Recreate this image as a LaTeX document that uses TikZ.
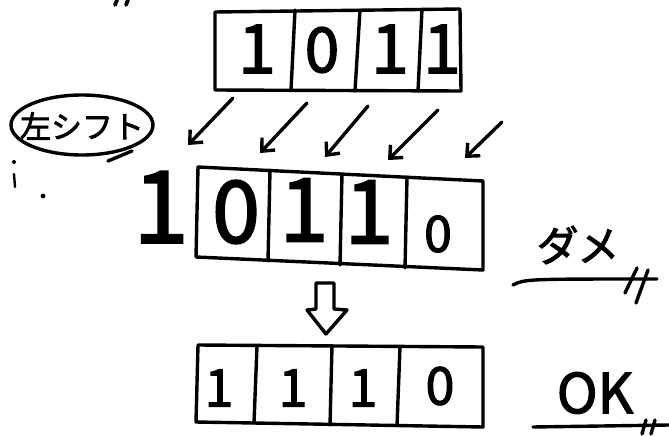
\documentclass[tikz,border=0pt]{standalone}
\usepackage{fontspec}
\newfontfamily\cjk{Noto Sans CJK JP}[FakeBold=2.2]
\usetikzlibrary{arrows.meta}
\begin{document}
\begin{tikzpicture}[x=1pt,y=-1pt,
  pen/.style={line width=3.4pt, line cap=round, line join=round},
  cellrow/.style={pen},
  digit/.style={font=\cjk\fontsize{#1}{#1}\selectfont, inner sep=0pt},
  shiftarrow/.style={pen, -{Straight Barb[length=10pt,width=18pt,line width=3.4pt]}},
  hollow/.style={pen, fill=white},
  jp/.style={font=\cjk\fontsize{#1}{#1}\selectfont, inner sep=0pt},
  underline/.style={pen},
]
\useasboundingbox (0,0) rectangle (669,436);

% ---------- top row 1011 ----------
\draw[cellrow] (215,12) -- (460,9) -- (461,91) -- (215,90) -- cycle;
\draw[cellrow] (295,10) -- (291,90);
\draw[cellrow] (360,10) -- (355,91);
\draw[cellrow] (422,9) -- (418,91);
\node[digit=68] (t1) at (257,49) {1};
\node[digit=62] (t2) at (322,50) {0};
\node[digit=68] (t3) at (390,49) {1};
\node[digit=68] (t4) at (442,49) {1};

% ---------- shift arrows ----------
\coordinate (a1s) at (233,98);  \coordinate (a1e) at (188,145);
\coordinate (a2s) at (307,103); \coordinate (a2e) at (260,153);
\coordinate (a3s) at (368,106); \coordinate (a3e) at (325,157);
\coordinate (a4s) at (438,110); \coordinate (a4e) at (388,160);
\coordinate (a5s) at (502,122); \coordinate (a5e) at (465,158);
\foreach \i in {1,...,5} \draw[shiftarrow] (a\i s) -- (a\i e);

% ---------- label 左シフト ----------
\draw[pen] (82,125) ellipse [x radius=71, y radius=30];
\node[jp=31] (lshift) at (82,126) {左シフト};
\draw[pen] (108,161) -- (132,151);
% stray marks
\fill (14,162) circle (2pt);
\draw[pen, line width=2.4pt] (14,174) -- (15,187);
\fill (43,196) circle (2.4pt);
\draw[pen, line width=3.8pt] (117,0) -- (115,5);
\draw[pen, line width=3.8pt] (128,0) -- (126,5);

% ---------- middle row 1 | 0110 ----------
\node[digit=100] (m0) at (161,207) {1};
\draw[cellrow] (198,167) -- (483,181) -- (483,270) -- (196,257) -- cycle;
\draw[cellrow] (270,170) -- (268,261);
\draw[cellrow] (342,174) -- (340,265);
\draw[cellrow] (407,177) -- (405,268);
\node[digit=86] (m1) at (236,212) {0};
\node[digit=88] (m2) at (304,210) {1};
\node[digit=88] (m3) at (369,212) {1};
\node[digit=50] (m4) at (438,234) {0};

% ---------- hollow down arrow ----------
\draw[hollow] (316,283) -- (334,283) -- (334,309) -- (347,310) -- (326,334)
   -- (307,310) -- (316,309) -- cycle;

% ---------- bottom row 1110 ----------
\draw[cellrow] (198,345) -- (483,347) -- (483,427) -- (196,422) -- cycle;
\draw[cellrow] (257,346) -- (254,423);
\draw[cellrow] (332,346) -- (330,425);
\draw[cellrow] (400,347) -- (397,426);
\node[digit=52] (b1) at (219,388) {1};
\node[digit=52] (b2) at (293,388) {1};
\node[digit=52] (b3) at (363,388) {1};
\node[digit=52] (b4) at (440,386) {0};

% ---------- ダメ / OK ----------
\node[jp=42] (dame) at (578,245) {ダメ};
\coordinate (d1) at (513,285); \coordinate (d2) at (657,279);
\draw[underline] (d1) .. controls (525,279) .. (d2);
\draw[pen] (637,268) -- (625,293);
\draw[pen] (648,270) -- (636,303);

\node[jp=55] (ok) at (595,393) {OK};
\coordinate (o1) at (533,427); \coordinate (o2) at (669,425);
\draw[underline] (o1) -- (o2);
\draw[pen] (646,420) -- (642,434);
\draw[pen] (655,420) -- (651,434);
\end{tikzpicture}
\end{document}
